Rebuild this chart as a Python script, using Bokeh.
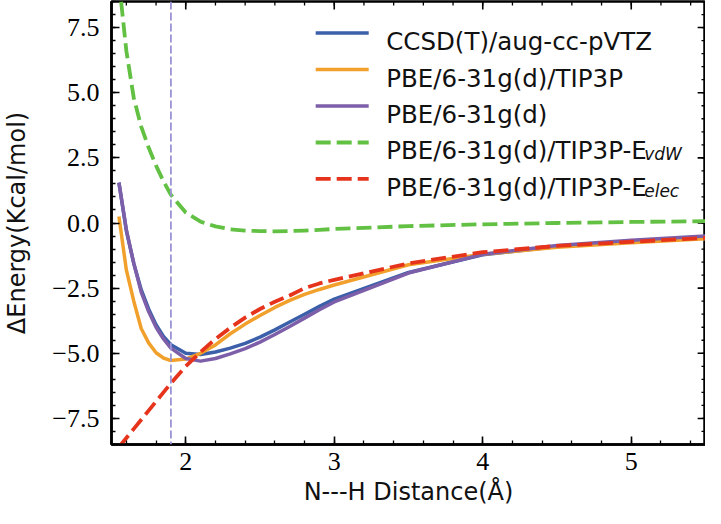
import numpy as np
from bokeh.plotting import figure
from bokeh.models import (Range1d, FixedTicker, Span, Label, Arrow, CustomJSTickFormatter)
from bokeh.embed import file_html
from bokeh.resources import INLINE

# ---------------- data ----------------
distance = [1.55, 1.6, 1.65, 1.7, 1.75, 1.8, 1.85, 1.9, 2.0, 2.1, 2.2, 2.3, 2.4,
            2.5, 2.6, 2.7, 2.8, 2.9, 3.0, 3.5, 4.0, 4.5, 5.0, 5.5]
ccsd_t = [1.55, -0.30, -1.55, -2.56, -3.30, -3.90, -4.35, -4.67, -5.00, -5.05, -4.95, -4.80,
          -4.62, -4.38, -4.10, -3.80, -3.50, -3.20, -2.92, -1.90, -1.22, -0.90, -0.70, -0.55]
pbe_tip3p = [0.25, -1.80, -3.00, -4.05, -4.60, -4.98, -5.18, -5.28, -5.22, -5.00, -4.68, -4.25,
             -3.88, -3.55, -3.24, -2.97, -2.74, -2.55, -2.38, -1.60, -1.20, -0.93, -0.76, -0.60]
pbe = [1.55, -0.25, -1.55, -2.65, -3.40, -4.00, -4.45, -4.80, -5.20, -5.30, -5.20, -5.02,
       -4.82, -4.57, -4.28, -3.97, -3.65, -3.33, -3.03, -1.92, -1.20, -0.86, -0.66, -0.50]
e_vdw = [9.30, 6.60, 4.80, 3.70, 2.90, 2.20, 1.60, 1.08, 0.40, 0.05, -0.13, -0.24,
         -0.29, -0.31, -0.32, -0.31, -0.29, -0.26, -0.23, -0.12, -0.05, 0.00, 0.04, 0.07]
e_elec = [-8.60, -8.25, -7.90, -7.55, -7.20, -6.85, -6.50, -6.15, -5.50, -4.95, -4.45, -4.02,
          -3.63, -3.30, -3.02, -2.78, -2.50, -2.32, -2.18, -1.55, -1.12, -0.88, -0.72, -0.57]
marker_distance = 1.9

series_names = ["CCSD(T)/aug-cc-pVTZ", "PBE/6-31g(d)/TIP3P", "PBE/6-31g(d)",
                "PBE/6-31g(d)/TIP3P-E", "PBE/6-31g(d)/TIP3P-E"]
series_subscripts = ["", "", "", "vdW", "elec"]
series_values = [ccsd_t, pbe_tip3p, pbe, e_vdw, e_elec]

x_limits = (1.5, 5.5)
y_limits = (-8.5, 8.5)
x_ticks = [2, 3, 4, 5]
x_minor = [round(v, 2) for v in np.arange(1.6, 5.41, 0.2)]
y_ticks = [-7.5, -5.0, -2.5, 0.0, 2.5, 5.0, 7.5]
y_minor = [round(v, 2) for v in np.arange(-8.5, 8.51, 0.5)]
y_tick_labels = ["\u22127.5", "\u22125.0", "\u22122.5", "0.0", "2.5", "5.0", "7.5"]
x_label = "N---H Distance(\u00c5)"
y_label = "\u0394Energy(Kcal/mol)"

# ---------------- styles ----------------
colors = ["#3b5fa9", "#f2a02c", "#7d5ea8", "#62c043", "#e6341c"]
dashes = ["solid", "solid", "solid", "15 6", "15 6"]
widths = [3.5, 3.5, 3.5, 3.8, 3.8]
serif_font = "Liberation Serif"
sans_font = "DejaVu Sans"

p = figure(width=705, height=508, x_range=Range1d(*x_limits), y_range=Range1d(*y_limits),
           output_backend="svg", toolbar_location=None,
           min_border_left=102, min_border_right=0, min_border_top=1, min_border_bottom=0)
p.xgrid.visible = False
p.ygrid.visible = False
p.background_fill_color = "white"
p.border_fill_color = "white"
p.outline_line_color = "black"
p.outline_line_width = 2.5
p.outline_line_alpha = 1.0


def style_axis(ax):
    ax.axis_line_color = "black"
    ax.axis_line_width = 2.5
    ax.major_tick_line_color = "black"
    ax.major_tick_line_width = 1.6
    ax.major_tick_in = 8
    ax.major_tick_out = 0
    ax.minor_tick_line_color = "black"
    ax.minor_tick_line_width = 1.3
    ax.minor_tick_in = 4
    ax.minor_tick_out = 0
    ax.major_label_text_font = serif_font
    ax.major_label_text_font_size = "26px"
    ax.major_label_text_color = "black"
    ax.axis_label_text_font = sans_font
    ax.axis_label_text_font_size = "24px"
    ax.axis_label_text_font_style = "normal"
    ax.axis_label_text_color = "#111111"


xax = p.xaxis[0]
xax.ticker = FixedTicker(ticks=x_ticks, minor_ticks=x_minor)
style_axis(xax)
xax.axis_label = x_label
xax.major_label_standoff = 8
xax.axis_label_standoff = 5

yax = p.yaxis[0]
yax.ticker = FixedTicker(ticks=y_ticks, minor_ticks=y_minor)
style_axis(yax)
yax.axis_label = y_label
yax.major_label_standoff = 12
yax.axis_label_standoff = 18
yax.formatter = CustomJSTickFormatter(
    args=dict(tvals=y_ticks, tlabels=y_tick_labels),
    code="const i = tvals.findIndex(t => Math.abs(t - tick) < 1e-9); return i >= 0 ? tlabels[i] : '';")

# inward ticks on the top and right frame edges (same tick positions as the axes)
major_len_x, minor_len_x = 0.053, 0.027   # ~8 px and ~4 px horizontally
major_len_y, minor_len_y = 0.31, 0.155    # ~8 px and ~4 px vertically
for ticks, ln, lw in ((x_ticks, major_len_y, 1.6), (x_minor, minor_len_y, 1.3)):
    p.segment(x0=ticks, y0=[y_limits[1]] * len(ticks), x1=ticks,
              y1=[y_limits[1] - ln] * len(ticks), line_color="black", line_width=lw)
for ticks, ln, lw in ((y_ticks, major_len_x, 1.6), (y_minor, minor_len_x, 1.3)):
    p.segment(x0=[x_limits[1]] * len(ticks), y0=ticks, x1=[x_limits[1] - ln] * len(ticks),
              y1=ticks, line_color="black", line_width=lw)

# vertical reference line
p.add_layout(Span(location=marker_distance, dimension="height", line_color="#9894d6",
                  line_width=1.8, line_dash="8 3"))

# curves
for vals, c, d, w in zip(series_values, colors, dashes, widths):
    p.line(distance, vals, line_color=c, line_dash=d, line_width=w, line_join="round")

# legend (drawn by hand so the subscripts can be set)
legend_line_x = (2.875, 3.232)
legend_text_x = 3.35
legend_top = 7.29
legend_step = 1.40
main_text_width = 258
for i, (name, sub) in enumerate(zip(series_names, series_subscripts)):
    yy = legend_top - i * legend_step
    p.add_layout(Arrow(end=None, x_start=legend_line_x[0], y_start=yy,
                       x_end=legend_line_x[1], y_end=yy, line_color=colors[i],
                       line_width=widths[i], line_dash=dashes[i]))
    p.add_layout(Label(x=legend_text_x, y=yy, y_offset=-8.5, text=name,
                       text_font=sans_font, text_font_size="24.5px",
                       text_color="#111111", text_baseline="alphabetic", text_align="left"))
    if sub:
        p.add_layout(Label(x=legend_text_x, y=yy, x_offset=main_text_width, y_offset=-12,
                           text=sub, text_font=sans_font, text_font_size="17px",
                           text_font_style="italic", text_color="#111111",
                           text_baseline="alphabetic", text_align="left"))

open("out.html", "w").write(file_html(p, INLINE))
